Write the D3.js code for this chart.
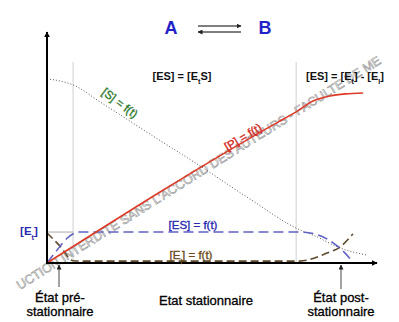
<!DOCTYPE html>
<html><head><meta charset="utf-8">
<script src="https://cdn.jsdelivr.net/npm/d3@7/dist/d3.min.js"></script>
<style>body{margin:0;background:#fff}svg{display:block;font-family:"Liberation Sans",Arial,sans-serif}</style>
</head><body>
<script>
// time (0-100) vs concentration (0-100)
const tPre = 7.9, tPost = 75.5, Et = 13.4;
const S  = [[0,79.7],[3.9,78.8],[7.9,77.1],[16.1,69.7],[31.2,55.8],[46.4,42.0],[61.5,27.7],[76.7,14.3],[80.6,12.1],[88.8,6.5],[96.7,3.5]];
const P  = [[0,0],[70,61],[75.5,65.4],[80.6,70.1],[85.8,72.3],[90.5,73.2],[95.8,73.6]];
const ES = [[0,0],[3,5.5],[6,10.6],[9.8,13.4],[75.5,13.4],[79.7,13.0],[86.7,8.7],[89.4,5.6],[92.7,0.4]];
const EL = [[0,13],[3.9,7.4],[7.9,1.0],[12,0.8],[76.5,0.8],[84.8,4.3],[88.8,6.9],[92.7,12.6]];
const phaseLabels = [["État pré-","stationnaire"],["Etat stationnaire"],["État post-","stationnaire"]];
const watermark = "UCTION INTERDITE SANS L'ACCORD DES AUTEURS - FACULTE DE ME";

const W=399,H=322;
const svg=d3.select("body").append("svg").attr("width",W).attr("height",H);
const x=d3.scaleLinear().domain([0,100]).range([47,377]);
const y=d3.scaleLinear().domain([0,100]).range([263,32]);

const defs=svg.append("defs");
defs.append("marker").attr("id","ah").attr("viewBox","0 0 10 10").attr("refX",9).attr("refY",5)
  .attr("markerWidth",6).attr("markerHeight",6).attr("markerUnits","userSpaceOnUse").attr("orient","auto")
  .append("path").attr("d","M0,0L10,5L0,10Z").attr("fill","#000");
defs.append("marker").attr("id","ahs").attr("viewBox","0 0 10 10").attr("refX",9).attr("refY",5)
  .attr("markerWidth",5).attr("markerHeight",5).attr("markerUnits","userSpaceOnUse").attr("orient","auto")
  .append("path").attr("d","M0,0L10,5L0,10Z").attr("fill","#222");

// grey guides
svg.append("line").attr("x1",x(tPre)).attr("x2",x(tPre)).attr("y1",62).attr("y2",y(0)).attr("stroke","#cfcfcf").attr("stroke-width",1);
svg.append("line").attr("x1",x(tPost)).attr("x2",x(tPost)).attr("y1",62).attr("y2",y(0)).attr("stroke","#cfcfcf").attr("stroke-width",1);
svg.append("line").attr("x1",x(0)).attr("x2",x(tPre)).attr("y1",y(Et)).attr("y2",y(Et)).attr("stroke","#aaa").attr("stroke-width",1);

// watermark (visible part only)
const wm = svg.append("g").attr("transform","translate(20,290) rotate(-32.1)");
const tmp=wm.append("text").style("font-size","13px").text(watermark);
const fs=13*428/tmp.node().getComputedTextLength(); tmp.remove();
wm.append("text").attr("x",0).attr("y",0).style("font-size",fs+"px")
  .attr("fill","#fff").attr("fill-opacity",0.45).attr("stroke","#959595").attr("stroke-width",0.6).text(watermark);

// curves
const line=d3.line().x(d=>x(d[0])).y(d=>y(d[1])).curve(d3.curveMonotoneX);
svg.append("path").attr("d",line(S)).attr("fill","none").attr("stroke","#555").attr("stroke-width",1).attr("stroke-dasharray","1,2");
svg.append("path").attr("d",line(EL)).attr("fill","none").attr("stroke","#5e4a2c").attr("stroke-width",1.6).attr("stroke-dasharray","8,4");
svg.append("path").attr("d",line(ES)).attr("fill","none").attr("stroke","#6262c4").attr("stroke-width",1.6).attr("stroke-dasharray","10,5");
svg.append("path").attr("d",line(P)).attr("fill","none").attr("stroke","#dd3b28").attr("stroke-width",1.6);

// axes
const xa=svg.append("g").attr("transform",`translate(0,${y(0)})`).call(d3.axisBottom(x).tickValues([]).tickSizeOuter(0));
const ya=svg.append("g").attr("transform",`translate(${x(0)},0)`).call(d3.axisLeft(y).tickValues([]).tickSizeOuter(0));
[xa,ya].forEach(a=>a.select(".domain").attr("stroke","#000").attr("stroke-width",2).attr("marker-end","url(#ah)"));
ya.select(".domain").attr("d",`M0,${y(0)}V${y(100)}`);
xa.select(".domain").attr("d",`M${x(0)-1},0H${x(100)}`);

// title A <=> B
svg.append("text").attr("x",171).attr("y",34).attr("text-anchor","middle").attr("fill","#1f22c8").style("font-size","18px").style("font-weight","bold").text("A");
svg.append("text").attr("x",265).attr("y",34).attr("text-anchor","middle").attr("fill","#1f22c8").style("font-size","18px").style("font-weight","bold").text("B");
svg.append("line").attr("x1",198).attr("x2",241).attr("y1",26).attr("y2",26).attr("stroke","#000").attr("stroke-width",1.2).attr("marker-end","url(#ahs)");
svg.append("line").attr("x1",241).attr("x2",198).attr("y1",32).attr("y2",32).attr("stroke","#000").attr("stroke-width",1.2).attr("marker-end","url(#ahs)");

function sub(sel, parts){
  parts.forEach(([t,s])=>{
    const ts=sel.append("tspan").text(t);
    if(s) ts.attr("baseline-shift","sub").style("font-size","0.65em");
  });
  return sel;
}
const hdr=(xx,yy,parts)=>sub(svg.append("text").attr("x",xx).attr("y",yy).attr("text-anchor","middle").style("font-size","11px").style("font-weight","bold").attr("fill","#111"),parts);
hdr(182,80,[["[ES] = [E",0],["t",1],["S]",0]]);
hdr(345,80,[["[ES] = [E",0],["t",1],["] - [E",0],["l",1],["]",0]]);

// curve labels (slight stroke to match the heavier reference rendering)
const lab=(sel,c)=>sel.attr("fill",c).attr("stroke",c).attr("stroke-width",0.35).style("font-size","11.5px");
lab(svg.append("text").attr("transform","translate(120,103) rotate(37)").attr("text-anchor","middle").attr("dy","0.35em"),"#2e7a2e").text("[S] = f(t)");
lab(svg.append("text").attr("transform","translate(243,137) rotate(-31)").attr("text-anchor","middle").attr("dy","0.35em"),"#d2281e").text("[P] = f(t)");
lab(svg.append("text").attr("x",193).attr("y",229).attr("text-anchor","middle"),"#2a2ab0").text("[ES] = f(t)");
sub(lab(svg.append("text").attr("x",191).attr("y",259).attr("text-anchor","middle"),"#6b4a1c"),[["[E",0],["l",1],["] = f(t)",0]]);
sub(svg.append("text").attr("x",29).attr("y",235).attr("text-anchor","middle").attr("fill","#2a2ab0").style("font-size","11.5px").style("font-weight","bold"),[["[E",0],["t",1],["]",0]]);

// phase labels
const ph=(cx,lines,y0)=>{lines.forEach((l,i)=>svg.append("text").attr("x",cx).attr("y",y0+i*14).attr("text-anchor","middle").style("font-size","13px").attr("fill","#000").attr("stroke","#000").attr("stroke-width",0.3).text(l));};
ph(60,phaseLabels[0],302);
ph(206,phaseLabels[1],305);
ph(341,phaseLabels[2],302);
svg.append("line").attr("x1",59).attr("x2",59).attr("y1",287).attr("y2",265).attr("stroke","#444").attr("stroke-width",1).attr("marker-end","url(#ahs)");
svg.append("line").attr("x1",341).attr("x2",341).attr("y1",289).attr("y2",265).attr("stroke","#444").attr("stroke-width",1).attr("marker-end","url(#ahs)");
</script>
</body></html>
